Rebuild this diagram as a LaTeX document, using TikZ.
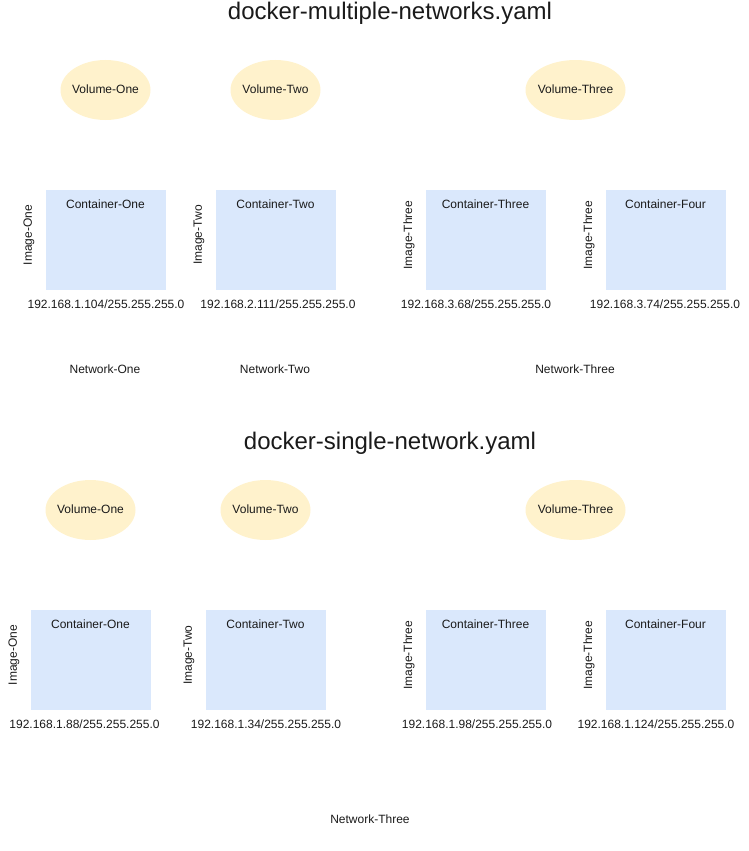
\documentclass[tikz,border=0pt]{standalone}
\usepackage{fontspec}
\setmainfont{Liberation Sans}
\usetikzlibrary{positioning,shapes.geometric}

\definecolor{volfill}{HTML}{FFF2CC}
\definecolor{boxfill}{HTML}{DAE8FC}
\definecolor{inktext}{HTML}{1A1A1A}

\begin{document}
\begin{tikzpicture}[x=1pt,y=-1pt,
    every node/.style={text=inktext,font=\fontsize{12}{14}\selectfont},
    volume/.style={ellipse,fill=volfill,minimum width=90pt,minimum height=60pt,inner sep=0pt},
    volwide/.style={volume,minimum width=100pt},
    container/.style={rectangle,fill=boxfill,minimum width=120pt,minimum height=100pt,inner sep=0pt},
    image/.style={rotate=90},
    title/.style={font=\fontsize{24}{28}\selectfont}]
  \useasboundingbox (0,0) rectangle (748,851);

  % multiple networks
  \node[title] (t1) at (390,13) {docker-multiple-networks.yaml};

  \node[volume,label={[yshift=1pt]center:Volume-One}]    (v11) at (105.5,90) {};
  \node[volume,label={[yshift=1pt]center:Volume-Two}]    (v12) at (275.5,90) {};
  \node[volwide,label={[yshift=1pt]center:Volume-Three}] (v13) at (575.5,90) {};

  \node[container] (c11) at (105.5,240) {};
  \node[container] (c12) at (275.5,240) {};
  \node[container] (c13) at (485.5,240) {};
  \node[container] (c14) at (665.5,240) {};
  \node[below=6pt of c11.north] {Container-One};
  \node[below=6pt of c12.north] {Container-Two};
  \node[below=6pt of c13.north] {Container-Three};
  \node[below=6pt of c14.north] {Container-Four};

  \node[image] (i11) at (29,235)  {Image-One};
  \node[image] (i12) at (199,235) {Image-Two};
  \node[image] (i13) at (409,235) {Image-Three};
  \node[image] (i14) at (589,235) {Image-Three};

  \node (a11) at (106,304) {192.168.1.104/255.255.255.0};
  \node (a12) at (278,304) {192.168.2.111/255.255.255.0};
  \node (a13) at (476,304) {192.168.3.68/255.255.255.0};
  \node (a14) at (665,304) {192.168.3.74/255.255.255.0};

  \node (n11) at (105,369) {Network-One};
  \node (n12) at (275,369) {Network-Two};
  \node (n13) at (575,369) {Network-Three};

  % single network
  \node[title] (t2) at (390,443) {docker-single-network.yaml};

  \node[volume,label={[yshift=1pt]center:Volume-One}]    (v21) at (90.5,510)  {};
  \node[volume,label={[yshift=1pt]center:Volume-Two}]    (v22) at (265.5,510) {};
  \node[volwide,label={[yshift=1pt]center:Volume-Three}] (v23) at (575.5,510) {};

  \node[container] (c21) at (90.5,660)  {};
  \node[container] (c22) at (265.5,660) {};
  \node[container] (c23) at (485.5,660) {};
  \node[container] (c24) at (665.5,660) {};
  \node[below=6pt of c21.north] {Container-One};
  \node[below=6pt of c22.north] {Container-Two};
  \node[below=6pt of c23.north] {Container-Three};
  \node[below=6pt of c24.north] {Container-Four};

  \node[image] (i21) at (14,655)  {Image-One};
  \node[image] (i22) at (189,655) {Image-Two};
  \node[image] (i23) at (409,655) {Image-Three};
  \node[image] (i24) at (589,655) {Image-Three};

  \node (a21) at (84.5,724) {192.168.1.88/255.255.255.0};
  \node (a22) at (266,724)  {192.168.1.34/255.255.255.0};
  \node (a23) at (477,724)  {192.168.1.98/255.255.255.0};
  \node (a24) at (656,724)  {192.168.1.124/255.255.255.0};

  \node (n21) at (370,819) {Network-Three};
\end{tikzpicture}
\end{document}
